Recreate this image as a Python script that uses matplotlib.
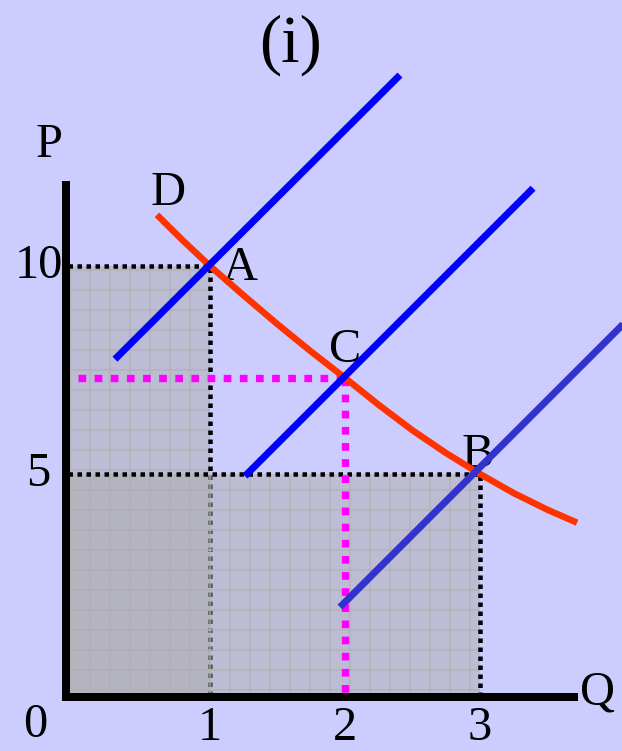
import matplotlib
matplotlib.use("Agg")
import matplotlib.pyplot as plt
import matplotlib as mpl
from matplotlib.patches import Rectangle

# ========== Styling ==========
mpl.rcParams.update({
    "font.family": ["Liberation Serif", "DejaVu Serif"],
    "hatch.linewidth": 0.7,
    "hatch.color": "#B0B0B0",
})

# ========== Data ==========
# demand curve D
demand_q = [0.607, 0.8, 1.0, 1.25, 1.5, 1.75, 2.0, 2.25, 2.5, 2.75, 3.0, 3.25, 3.5, 3.719]
demand_p = [11.23, 10.61, 10.0, 9.29, 8.60, 7.94, 7.31, 6.66, 6.05, 5.50, 5.0, 4.54, 4.14, 3.83]

# supply lines (start / end points)
s1_q = [0.296, 2.407]
s1_p = [7.76, 14.59]
s2_q = [1.259, 3.393]
s2_p = [4.95, 11.87]
s3_q = [1.963, 4.10]
s3_p = [1.80, 8.73]

# equilibrium points
points = {"A": (1, 10), "C": (2, 7.31), "B": (3, 5)}

x_ticks = [1, 2, 3]
y_ticks = [10, 5]

# ========== Figure ==========
DPI = 120
fig = plt.figure(figsize=(622 / DPI, 751 / DPI), dpi=DPI, facecolor="#CCCCFF")
ax = fig.add_axes([0, 0, 1, 1])
ax.set_facecolor("#CCCCFF")
ax.set_xlim(-75 / 135, (622 - 75) / 135)
ax.set_ylim((682 - 751) / 41.6, 682 / 41.6)
ax.axis("off")

q0, p0 = -0.05, -0.3      # where the shaded areas start (origin corner)
q_ax, p_ax = -0.067, -0.36  # axis lines

qa, pa = points["A"]
qb, pb = points["B"]
qc, pc = points["C"]

dot = dict(color="black", lw=2.7, linestyle=(0, (1, 1)), dash_capstyle="butt")
shade = (0.68, 0.68, 0.68, 0.5)

# shaded revenue areas
ax.add_patch(Rectangle((q0, p0), qa - q0, pa - p0, facecolor=shade,
                       edgecolor="#B0B0B0", linewidth=0, hatch="+", zorder=1))
ax.plot([q0, qa, qa], [pa, pa, p0], **dot, zorder=2)
ax.add_patch(Rectangle((q0, p0), qb - q0, pb - p0, facecolor=shade,
                       edgecolor="#B0B0B0", linewidth=0, hatch="+", zorder=3))
ax.plot([q0, qb, qb], [pb, pb, p0], **dot, zorder=4)

# magenta guide to C
mag = dict(color="#FF00FF", lw=4.4, linestyle=(0, (1.05, 1.15)), dash_capstyle="butt", zorder=5)
ax.plot([0.022, qc], [pc, pc], **mag)
ax.plot([qc, qc], [pc, p0], **mag)

# demand and supply
ax.plot(demand_q, demand_p, color="#FF3300", lw=3.9, solid_capstyle="butt",
        solid_joinstyle="round", zorder=6)
ax.plot(s1_q, s1_p, color="#0000FF", lw=4.2, solid_capstyle="butt", zorder=7)
ax.plot(s2_q, s2_p, color="#0000FF", lw=4.2, solid_capstyle="butt", zorder=7)
ax.plot(s3_q, s3_p, color="#3333CC", lw=4.2, solid_capstyle="butt", zorder=7)

# axes
ax.plot([q_ax, q_ax], [11.95, p_ax], color="black", lw=4.8, solid_capstyle="projecting", zorder=8)
ax.plot([q_ax, 3.726], [p_ax, p_ax], color="black", lw=4.8, solid_capstyle="butt", zorder=8)

# texts
fs = 29
ax.text(1.593, 15.31, "(i)", fontsize=40, ha="center", va="center")
ax.text(-0.195, 12.91, "P", fontsize=fs, ha="center", va="center")
ax.text(3.874, -0.26, "Q", fontsize=fs, ha="center", va="center")
ax.text(0.689, 11.75, "D", fontsize=fs, ha="center", va="center")
ax.text(1.222, 9.95, "A", fontsize=fs, ha="center", va="center")
ax.text(2.0, 7.98, "C", fontsize=fs, ha="center", va="center")
ax.text(2.985, 5.46, "B", fontsize=fs, ha="center", va="center")
ax.text(-0.296, -1.03, "0", fontsize=fs, ha="center", va="center")
for q in x_ticks:
    ax.text(q, -1.10, str(q), fontsize=fs, ha="center", va="center")
for p in y_ticks:
    ax.text(-0.27, p, str(p), fontsize=fs, ha="center", va="center")

fig.savefig("out.png", dpi=DPI, facecolor="#CCCCFF")
